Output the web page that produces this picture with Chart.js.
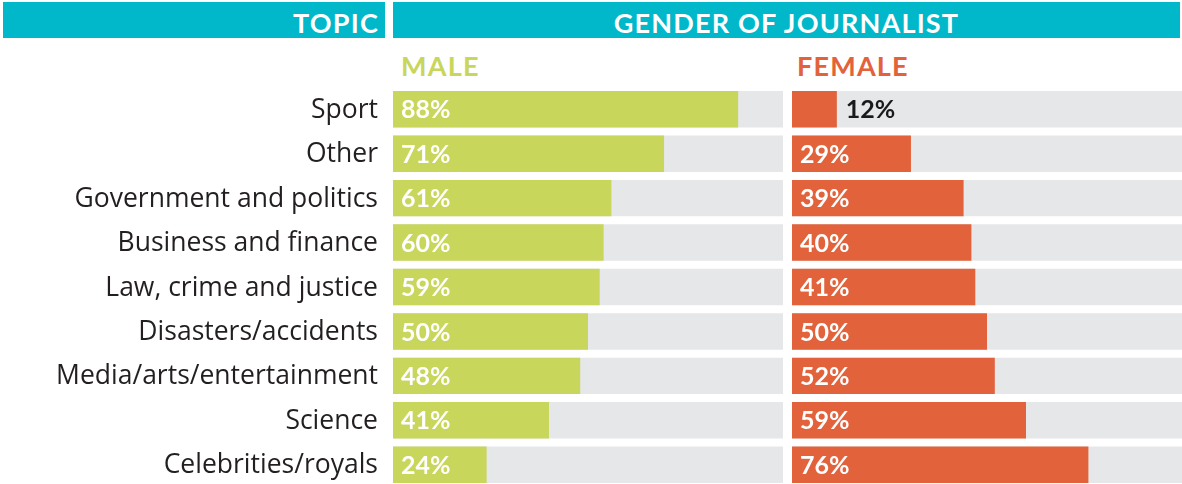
<!DOCTYPE html>
<html>
<head>
<meta charset="utf-8">
<script src="https://cdn.jsdelivr.net/npm/chart.js@4"></script>
<style>
  html,body{margin:0;padding:0;background:#fff;width:1182px;height:484px;overflow:hidden;position:relative;font-family:Lato,"Open Sans",sans-serif;}
  .hdr{position:absolute;top:2px;height:36px;background:#00b8c9;color:#fff;font-weight:700;font-size:27px;line-height:27px;letter-spacing:1.2px;box-sizing:border-box;padding-top:7px;white-space:nowrap;}
  .sub{position:absolute;top:52px;font-weight:700;font-size:27px;line-height:27px;letter-spacing:1.2px;}
  #cl{position:absolute;left:0;top:87px;}
  #cr{position:absolute;left:792px;top:87px;}
</style>
</head>
<body>
<div class="hdr" id="hTopic" style="left:3px;width:382px;text-align:right;padding-right:6px;"></div>
<div class="hdr" id="hGender" style="left:393px;width:787px;text-align:center;"></div>
<div class="sub" id="sMale" style="left:401px;color:#c8d65b;"></div>
<div class="sub" id="sFemale" style="left:797px;color:#e2623b;"></div>
<div id="cl" style="width:783px;height:400px;"><canvas id="left"></canvas></div>
<div id="cr" style="width:390px;height:400px;"><canvas id="right"></canvas></div>
<script>
// ---- data ----
const headerTopic = "TOPIC";
const headerGender = "GENDER OF JOURNALIST";
const seriesNames = ["MALE", "FEMALE"];
const topics = ["Sport","Other","Government and politics","Business and finance","Law, crime and justice","Disasters/accidents","Media/arts/entertainment","Science","Celebrities/royals"];
// bar lengths as drawn in the reference (%)
const maleBars   = [88.5, 69.5, 56, 54, 53, 50, 48, 40, 24];
const femaleBars = [11.5, 30.5, 44, 46, 47, 50, 52, 60, 76];
// printed percentage labels
const maleLabels   = [88, 71, 61, 60, 59, 50, 48, 41, 24];
const femaleLabels = [12, 29, 39, 40, 41, 50, 52, 59, 76];
const trackValues  = [100,100,100,100,100,100,100,100,100];

document.getElementById('hTopic').textContent = headerTopic;
document.getElementById('hGender').textContent = headerGender;
document.getElementById('sMale').textContent = seriesNames[0];
document.getElementById('sFemale').textContent = seriesNames[1];

const GREEN = '#c8d65b', ORANGE = '#e2623b', GRAY = '#e6e7e9';

const labelPlugin = {
  id: 'valueLabels',
  afterDatasetsDraw(chart, args, opts) {
    const ctx = chart.ctx;
    const meta = chart.getDatasetMeta(0);
    ctx.save();
    ctx.textBaseline = 'middle';
    // topic labels (category names) from the y scale
    if (opts.showTopics) {
      const yScale = chart.scales.y;
      ctx.font = '400 26.5px "Open Sans", Lato, sans-serif';
      ctx.fillStyle = '#231f20';
      ctx.textAlign = 'right';
      yScale.ticks.forEach((t, i) => {
        ctx.fillText(yScale.getLabelForValue(t.value), chart.chartArea.left - 15, yScale.getPixelForTick(i) + 1);
      });
    }
    ctx.font = '700 25px Lato, "Open Sans", sans-serif';
    ctx.textAlign = 'left';
    meta.data.forEach((bar, i) => {
      const txt = opts.labels[i] + '%';
      const w = ctx.measureText(txt).width;
      const len = bar.x - bar.base;
      if (len < w + 16) {
        ctx.fillStyle = '#1a1a1a';
        ctx.fillText(txt, bar.x + 9, bar.y + 1);
      } else {
        ctx.fillStyle = '#ffffff';
        ctx.fillText(txt, bar.base + 8, bar.y + 1);
      }
    });
    ctx.restore();
  }
};

function makeChart(id, values, labels, color, showTopics) {
  return new Chart(document.getElementById(id), {
    type: 'bar',
    data: {
      labels: topics,
      datasets: [
        { data: values, backgroundColor: color, grouped: false, barPercentage: 0.82, categoryPercentage: 1, order: 0 },
        { data: trackValues, backgroundColor: GRAY, grouped: false, barPercentage: 0.82, categoryPercentage: 1, order: 1 }
      ]
    },
    options: {
      indexAxis: 'y',
      responsive: true,
      maintainAspectRatio: false,
      animation: false,
      layout: { padding: { left: showTopics ? 393 : 0, right: 0, top: 0, bottom: 0 } },
      plugins: { legend: { display: false }, tooltip: { enabled: false }, valueLabels: { labels, showTopics } },
      scales: {
        x: { min: 0, max: 100, display: false },
        y: { display: false }
      }
    },
    plugins: [labelPlugin]
  });
}

makeChart('left', maleBars, maleLabels, GREEN, true);
makeChart('right', femaleBars, femaleLabels, ORANGE, false);
</script>
</body>
</html>
